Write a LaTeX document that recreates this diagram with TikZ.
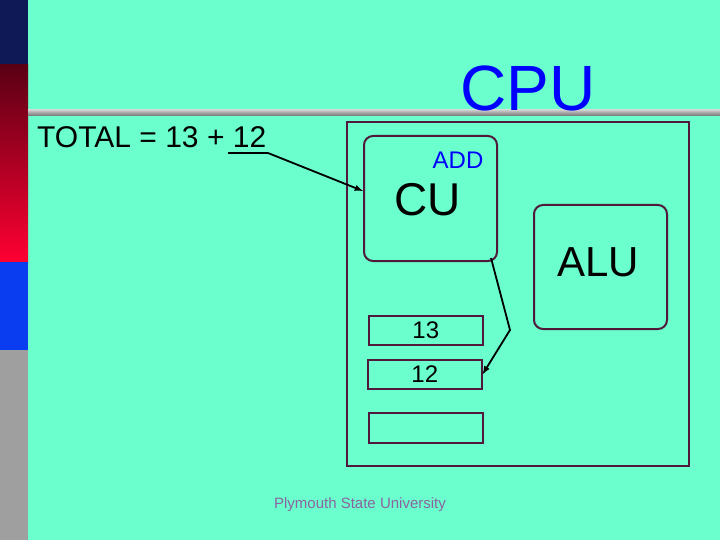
\documentclass[tikz,border=0pt]{standalone}
\usepackage{fontspec}
\setmainfont{Liberation Sans}
\definecolor{bg}{RGB}{106,255,204}
\definecolor{navy}{RGB}{15,25,85}
\definecolor{dred}{RGB}{90,0,20}
\definecolor{bred}{RGB}{255,0,50}
\definecolor{sblue}{RGB}{10,60,240}
\definecolor{foot}{RGB}{140,100,160}
\definecolor{frm}{RGB}{80,25,60}
\begin{document}
\begin{tikzpicture}[x=1pt,y=-1pt,
  frame/.style={draw=frm, line width=2pt},
  rbox/.style={frame, rounded corners=9pt},
  reg/.style={draw=frm, line width=1.6pt},
  arr/.style={-latex, line width=1.8pt}]
\useasboundingbox (0,0) rectangle (720,540);
\fill[bg] (0,0) rectangle (720,540);
\fill[navy] (0,0) rectangle (28,65);
\shade[top color=dred, bottom color=bred] (0,65) rectangle (28,262);
\fill[sblue] (0,262) rectangle (28,350);
\fill[gray!75] (0,350) rectangle (28,540);
\shade[top color=gray!40, bottom color=gray!90!black] (28,110) rectangle (720,116);
\node[text=blue, font=\fontsize{64}{68}\selectfont] (cpu) at (528,88) {CPU};
\node[anchor=base west, font=\fontsize{30}{34}\selectfont, inner sep=0] (tot) at (37,148) {TOTAL = 13 + 12};
\coordinate (ul) at (268,153);
\draw[line width=1.5pt] (228,153) -- (ul);
\draw[frame] (347,122) rectangle (689,466);
\node[rbox, minimum width=133, minimum height=125, anchor=north west] (cu) at (363,135) {};
\node[text=blue, font=\fontsize{24}{28}\selectfont] (add) at (458,160) {ADD};
\node[font=\fontsize{46}{50}\selectfont] (cut) at (428,200) {CU};
\node[rbox, minimum width=133, minimum height=124, anchor=north west] (alu) at (533,204) {};
\node[font=\fontsize{42}{46}\selectfont] (alut) at (598,262) {ALU};
\node[reg, minimum width=114, minimum height=29, anchor=north west, font=\fontsize{24}{28}\selectfont, inner sep=0] (r1) at (368,315) {13};
\node[reg, minimum width=114, minimum height=29, anchor=north west, font=\fontsize{24}{28}\selectfont, inner sep=0] (r2) at (367,359) {12};
\node[reg, minimum width=114, minimum height=30, anchor=north west] (r3) at (368,412) {};
\draw[arr] (ul) -- (cu.west |- 0,191);
\coordinate (bend) at (510,330);
\draw[arr] (491,258) -- (bend) -- (r2.east);
\node[text=foot, font=\fontsize{15}{17}\selectfont] (ft) at (360,505) {Plymouth State University};
\end{tikzpicture}
\end{document}
